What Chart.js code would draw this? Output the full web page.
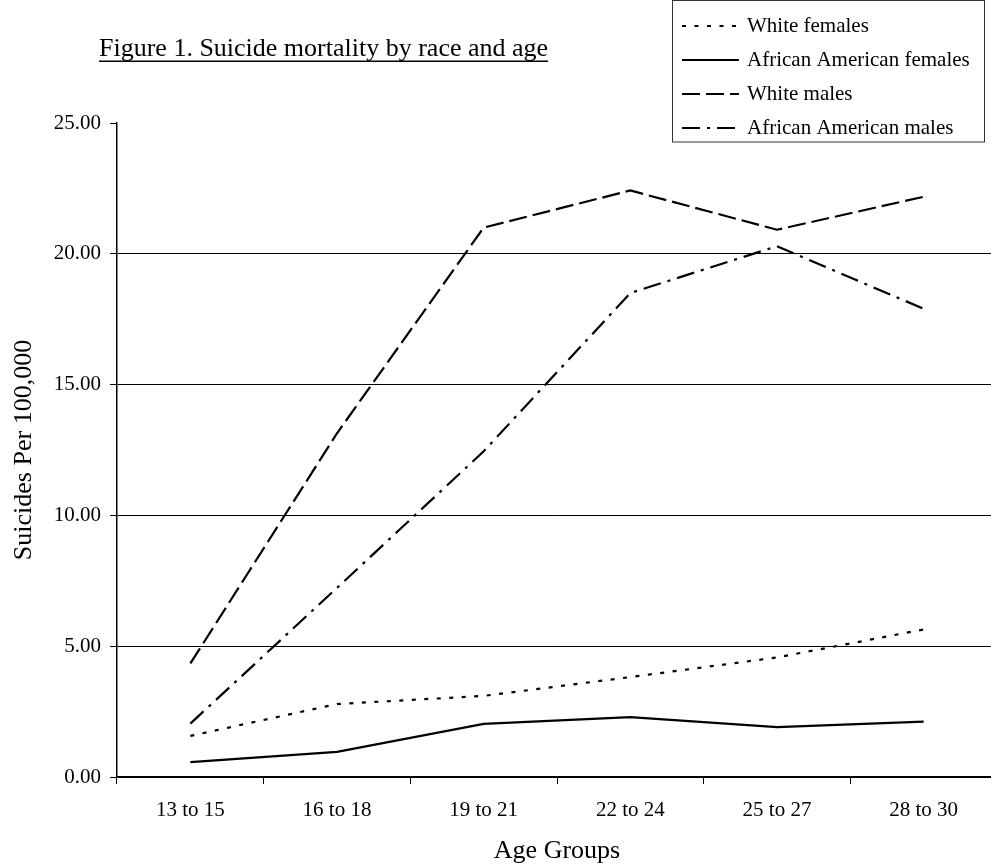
<!DOCTYPE html>
<html><head><meta charset="utf-8">
<script src="https://cdn.jsdelivr.net/npm/chart.js@4.4.1/dist/chart.umd.min.js"></script>
<style>html,body{margin:0;padding:0;background:#fff;overflow:hidden}canvas{display:block}</style>
</head><body>
<canvas id="c" width="997" height="867" style="width:997px;height:867px"></canvas>
<script>
const titleText = 'Figure 1. Suicide mortality by race and age';
const categories = ['13 to 15', '16 to 18', '19 to 21', '22 to 24', '25 to 27', '28 to 30'];
const seriesLabels = ['White females', 'African American females', 'White males', 'African American males'];
const whiteFemales = [1.57, 2.79, 3.10, 3.82, 4.57, 5.64];
const aaFemales = [0.57, 0.96, 2.03, 2.29, 1.91, 2.12];
const whiteMales = [4.34, 13.14, 21.00, 22.42, 20.92, 22.18];
const aaMales = [2.04, 7.23, 12.45, 18.50, 20.29, 17.90];
const yMin = 0, yMax = 25, yStep = 5;

const FONT = '"Liberation Serif","Times New Roman",serif';
const dashes = [[4, 8.5], [], [18, 6], [18, 7, 3, 7]];
const values = [whiteFemales, aaFemales, whiteMales, aaMales];

const decor = {
  id: 'decor',
  afterDraw(chart) {
    const ctx = chart.ctx;
    ctx.save();
    ctx.fillStyle = '#000';
    ctx.font = '26px ' + FONT;
    ctx.textAlign = 'left';
    ctx.textBaseline = 'alphabetic';
    ctx.fillText(titleText, 99, 56);
    const w = ctx.measureText(titleText).width;
    ctx.fillRect(99, 60.5, w, 1.5);
    // legend box
    ctx.strokeStyle = '#333';
    ctx.lineWidth = 1;
    ctx.strokeRect(672.5, 0.5, 312, 141.5);
    chart.data.datasets.forEach((ds, i) => {
      const y = 26 + 34 * i;
      ctx.strokeStyle = '#000';
      ctx.lineWidth = 2.2;
      ctx.setLineDash(ds.borderDash || []);
      ctx.beginPath();
      ctx.moveTo(682, y);
      ctx.lineTo(739, y);
      ctx.stroke();
      ctx.setLineDash([]);
      ctx.font = '21px ' + FONT;
      ctx.textBaseline = 'middle';
      ctx.fillText(ds.label, 747, y);
    });
    ctx.restore();
  }
};

new Chart(document.getElementById('c'), {
  type: 'line',
  data: {
    labels: categories,
    datasets: seriesLabels.map((lab, i) => ({
      label: lab,
      data: values[i],
      borderColor: '#000',
      backgroundColor: '#000',
      borderWidth: 2.2,
      borderDash: dashes[i],
      pointRadius: 0,
      tension: 0,
      fill: false
    }))
  },
  options: {
    responsive: false,
    animation: false,
    devicePixelRatio: 1,
    layout: { padding: { top: 123, right: 0, bottom: 0, left: 0 } },
    plugins: { legend: { display: false }, title: { display: false }, tooltip: { enabled: false } },
    scales: {
      x: {
        type: 'category',
        offset: true,
        grid: { offset: true, drawOnChartArea: false, drawTicks: true, tickLength: 7, color: '#000', lineWidth: 1 },
        border: { color: '#000', width: 1.5 },
        ticks: { font: { family: FONT, size: 21 }, color: '#000', padding: 14, maxRotation: 0, autoSkip: false },
        title: { display: true, text: 'Age Groups', font: { family: FONT, size: 26 }, color: '#000', padding: { top: 0, bottom: 0 } },
        afterFit(s) { s.height = 90; }
      },
      y: {
        min: yMin, max: yMax,
        grid: {
          color: c => (c.tick && c.tick.value === yMax) ? 'rgba(0,0,0,0)' : '#000',
          tickColor: '#000', lineWidth: 1, drawTicks: true, tickLength: 7
        },
        border: { color: '#000', width: 1.5 },
        ticks: { stepSize: yStep, callback: v => Number(v).toFixed(2), font: { family: FONT, size: 21 }, color: '#000', padding: 9 },
        title: { display: true, text: 'Suicides Per 100,000', font: { family: FONT, size: 26 }, color: '#000', padding: { top: 9, bottom: 0 } },
        afterFit(s) { s.width = 117; }
      }
    }
  },
  plugins: [decor]
});
</script>
</body></html>
